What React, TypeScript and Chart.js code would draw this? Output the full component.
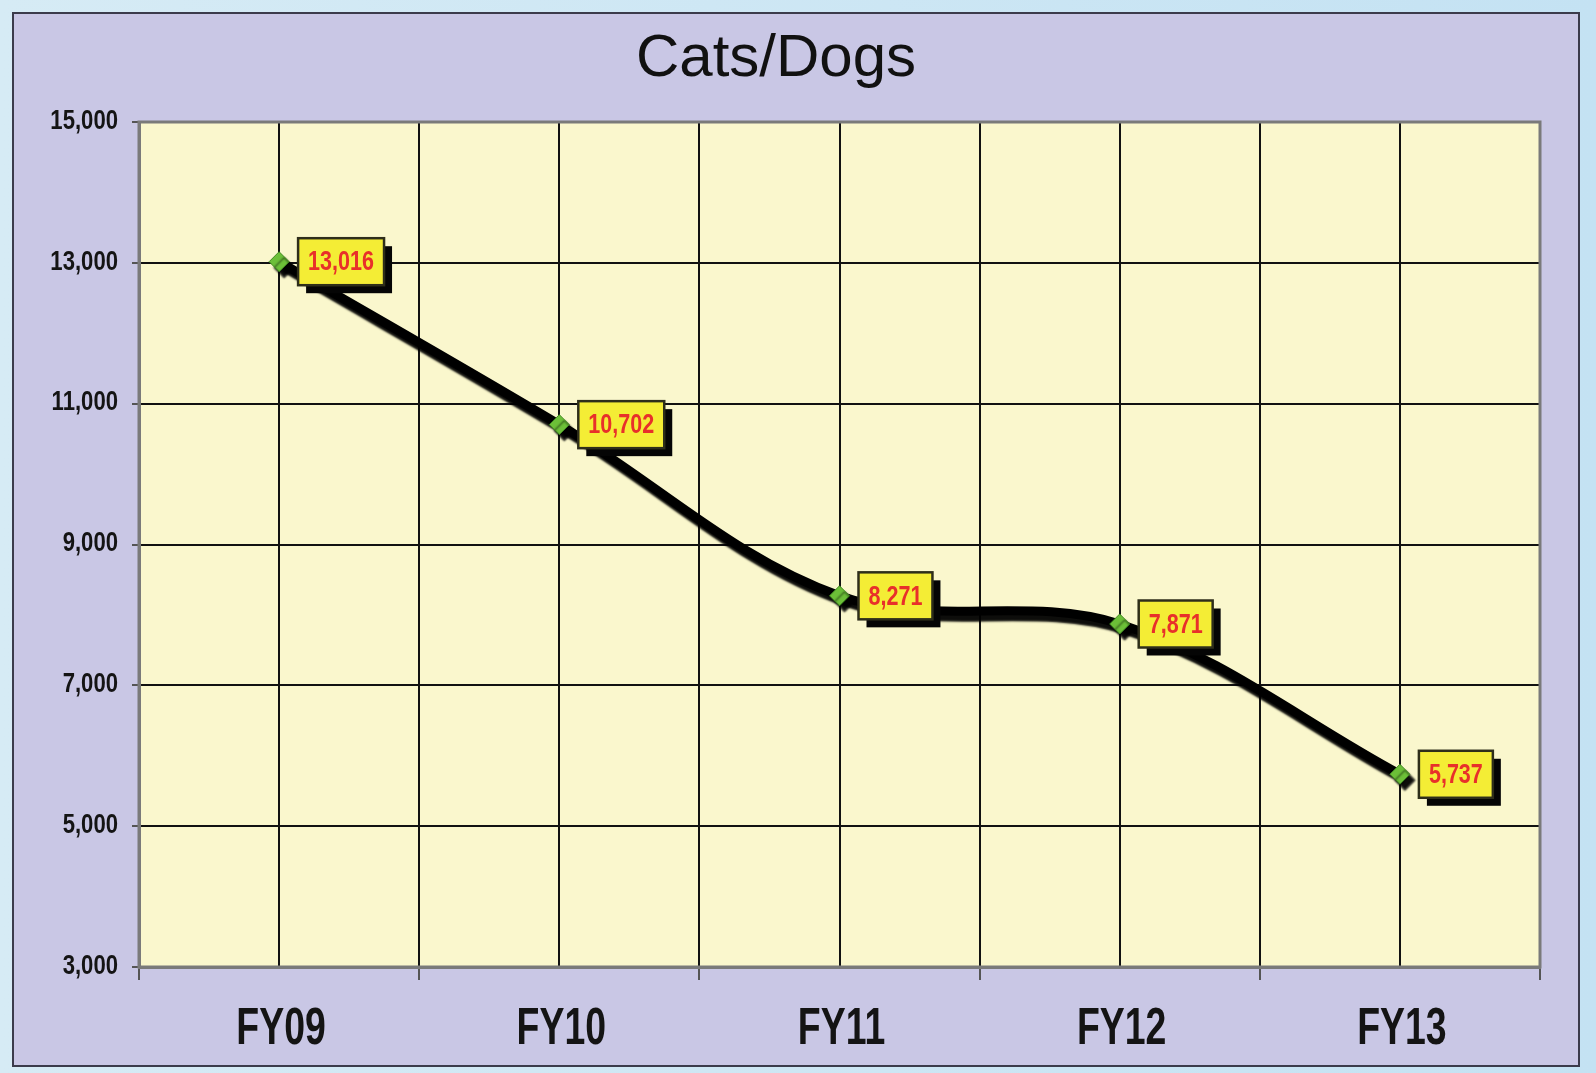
import { useEffect, useRef } from "react";
import { Chart, registerables } from "chart.js";

Chart.register(...registerables);

const chartTitle = "Cats/Dogs";
const categories = ["FY09", "FY10", "FY11", "FY12", "FY13"];
const values = [13016, 10702, 8271, 7871, 5737];
const yTicks = [3000, 5000, 7000, 9000, 11000, 13000, 15000];

const SANS = '"Liberation Sans", Arial, sans-serif';

function narrowText(ctx: any, text: string, x: number, y: number, sx: number) {
  ctx.save();
  ctx.translate(x, y);
  ctx.scale(sx, 1);
  ctx.fillText(text, 0, 0);
  ctx.restore();
}

export default function App() {
  const ref = useRef<HTMLCanvasElement | null>(null);

  useEffect(() => {
    const canvas = ref.current;
    if (!canvas) return;

    const plotBg = {
      id: "plotBg",
      beforeDraw(chart: any) {
        const { ctx, chartArea: a } = chart;
        ctx.save();
        ctx.fillStyle = "#faf7cd";
        ctx.fillRect(a.left, a.top, a.right - a.left, a.bottom - a.top);
        ctx.restore();
      },
    };

    const plotBorder = {
      id: "plotBorder",
      beforeDatasetsDraw(chart: any) {
        const { ctx, chartArea: a } = chart;
        ctx.save();
        ctx.strokeStyle = "#7a7a7a";
        ctx.lineWidth = 3;
        ctx.strokeRect(a.left, a.top, a.right - a.left, a.bottom - a.top);
        ctx.restore();
      },
    };

    const narrowTicks = {
      id: "narrowTicks",
      afterDraw(chart: any) {
        const ctx = chart.ctx;
        const xs = chart.scales.x;
        const ys = chart.scales.y;
        const a = chart.chartArea;
        ctx.save();
        ctx.fillStyle = "#141414";
        ctx.font = `bold 28px ${SANS}`;
        ctx.textAlign = "right";
        ctx.textBaseline = "middle";
        ys.ticks.forEach((t: any) => {
          const label = Number(t.value).toLocaleString("en-US");
          const y = ys.getPixelForValue(t.value);
          narrowText(ctx, label, a.left - 21, y - 1, 0.79);
        });
        ctx.font = `bold 52px ${SANS}`;
        ctx.textAlign = "center";
        xs.ticks.forEach((t: any) => {
          if (!Number.isInteger(t.value)) return;
          const label = categories[t.value];
          const x = xs.getPixelForValue(t.value);
          narrowText(ctx, label, x + 2, a.bottom + 63, 0.72);
        });
        ctx.restore();
      },
    };

    const lineShadow = {
      id: "lineShadow",
      beforeDatasetDraw(chart: any) {
        const ctx = chart.ctx;
        ctx.save();
        ctx.shadowColor = "rgba(0,0,0,0.95)";
        ctx.shadowOffsetX = 5;
        ctx.shadowOffsetY = 6;
        ctx.shadowBlur = 2;
      },
      afterDatasetDraw(chart: any) {
        chart.ctx.restore();
      },
    };

    const dataLabels = {
      id: "dataLabels",
      afterDatasetsDraw(chart: any) {
        const ctx = chart.ctx;
        const meta = chart.getDatasetMeta(0);
        ctx.save();
        ctx.font = `bold 28px ${SANS}`;
        meta.data.forEach((pt: any, i: number) => {
          const text = values[i].toLocaleString("en-US");
          const tw = ctx.measureText(text).width * 0.77;
          const w = tw + 20;
          const h = 47;
          const x = pt.x + 19;
          const y = pt.y - h / 2;
          ctx.fillStyle = "#050505";
          ctx.fillRect(x + 8, y + 8, w, h);
          ctx.fillStyle = "#f4ed35";
          ctx.fillRect(x, y, w, h);
          ctx.strokeStyle = "#2e2e1a";
          ctx.lineWidth = 2.5;
          ctx.strokeRect(x, y, w, h);
          ctx.fillStyle = "#e8302a";
          ctx.textAlign = "center";
          ctx.textBaseline = "middle";
          narrowText(ctx, text, x + w / 2, y + h / 2 + 1, 0.77);
        });
        ctx.restore();
      },
    };

    const titlePlugin = {
      id: "customTitle",
      afterDraw(chart: any) {
        const ctx = chart.ctx;
        ctx.save();
        ctx.font = `60px ${SANS}`;
        ctx.fillStyle = "#111";
        ctx.textAlign = "center";
        ctx.textBaseline = "alphabetic";
        ctx.fillText(chartTitle, 762, 62);
        ctx.restore();
      },
    };

    const chart = new Chart(canvas, {
      type: "line",
      data: {
        datasets: [
          {
            label: chartTitle,
            data: values.map((v, i) => ({ x: i, y: v })),
            borderColor: "#000",
            borderWidth: 9,
            tension: 0.35,
            pointStyle: "rectRot",
            pointRadius: 10,
            pointBackgroundColor: "#6cbf38",
            pointBorderColor: "#3f8a1f",
            pointBorderWidth: 1,
            fill: false,
            clip: false as any,
          },
        ],
      },
      options: {
        animation: false,
        responsive: false,
        devicePixelRatio: 1,
        layout: { padding: { top: 108, right: 38, left: 0, bottom: 0 } },
        plugins: {
          legend: { display: false },
          tooltip: { enabled: false },
          title: { display: false },
        },
        scales: {
          x: {
            type: "linear",
            min: -0.5,
            max: 4.5,
            afterFit(scale: any) {
              scale.height = 98;
            },
            ticks: {
              display: false,
              stepSize: 0.5,
              autoSkip: false,
              maxRotation: 0,
              minRotation: 0,
              callback: (v: any) => (Number.isInteger(v) ? categories[v] : ""),
            },
            grid: {
              color: "#111",
              lineWidth: 2,
              tickLength: 13,
              tickColor: (c: any) =>
                c.tick && Number.isInteger(c.tick.value) ? "rgba(0,0,0,0)" : "#555",
              tickWidth: 2,
            },
            border: { display: true, color: "#7a7a7a", width: 3 },
          },
          y: {
            type: "linear",
            min: 3000,
            max: 15000,
            afterFit(scale: any) {
              scale.width = 125;
            },
            afterBuildTicks(scale: any) {
              scale.ticks = yTicks.map((v) => ({ value: v }));
            },
            ticks: {
              display: false,
              callback: (v: any) => Number(v).toLocaleString("en-US"),
            },
            grid: {
              color: "#111",
              lineWidth: 2,
              tickLength: 7,
              tickColor: "#555",
              tickWidth: 2,
            },
            border: { display: true, color: "#7a7a7a", width: 3 },
          },
        },
      },
      plugins: [plotBg, plotBorder, lineShadow, dataLabels, narrowTicks, titlePlugin],
    });

    return () => chart.destroy();
  }, []);

  return (
    <div
      style={{
        position: "fixed",
        left: 0,
        top: 0,
        width: 1596,
        height: 1073,
        background: "linear-gradient(90deg, #d6ebf5 0%, #c4e2f3 100%)",
      }}
    >
      <div
        style={{
          position: "absolute",
          left: 12,
          top: 12,
          width: 1568,
          height: 1055,
          boxSizing: "border-box",
          border: "2px solid #3b3b4b",
          background: "#c9c7e5",
        }}
      >
        <canvas ref={ref} width={1564} height={1051} style={{ display: "block" }} />
      </div>
    </div>
  );
}
